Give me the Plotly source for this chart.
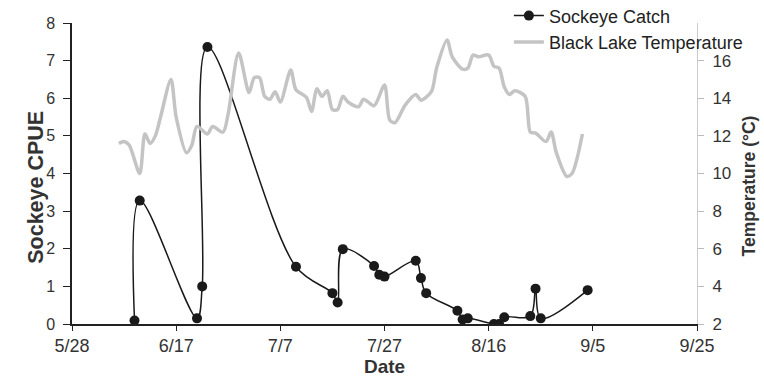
import pandas as pd
import plotly.graph_objects as go

YEAR = "2008"

# Sockeye catch per unit effort
catch_dates = ["6/9", "6/10", "6/21", "6/22", "6/23", "7/10", "7/17", "7/18", "7/19",
               "7/25", "7/26", "7/27", "8/2", "8/3", "8/4", "8/10", "8/11", "8/12",
               "8/17", "8/18", "8/19", "8/24", "8/25", "8/26", "9/4"]
catch_cpue = [0.09, 3.28, 0.15, 1.0, 7.36, 1.52, 0.82, 0.57, 1.99,
              1.54, 1.31, 1.26, 1.68, 1.22, 0.82, 0.35, 0.12, 0.15,
              0.0, 0.0, 0.18, 0.21, 0.94, 0.15, 0.9]

# Black Lake water temperature (deg C)
temp_dates = ["6/6", "6/7", "6/8", "6/10", "6/11", "6/12", "6/13", "6/14", "6/16", "6/17",
              "6/19", "6/20", "6/21", "6/23", "6/24", "6/26", "6/27", "6/29", "7/1", "7/2",
              "7/3", "7/4", "7/5", "7/6", "7/7", "7/9", "7/10", "7/12", "7/13", "7/14",
              "7/15", "7/16", "7/17", "7/18", "7/19", "7/20", "7/22", "7/23", "7/25", "7/27",
              "7/28", "7/29", "7/31", "8/2", "8/3", "8/5", "8/6", "8/8", "8/9", "8/11",
              "8/12", "8/13", "8/14", "8/16", "8/17", "8/18", "8/19", "8/20", "8/21", "8/23",
              "8/24", "8/25", "8/27", "8/28", "8/29", "8/31", "9/1", "9/3"]
temp_c = [11.6, 11.7, 11.5, 10.0, 12.1, 11.6, 12.0, 13.0, 15.0, 13.0,
          11.1, 11.5, 12.5, 12.1, 12.5, 12.2, 13.2, 16.4, 14.3, 15.1,
          15.1, 14.1, 13.95, 14.35, 13.8, 15.5, 14.45, 14.05, 13.3, 14.5,
          14.1, 14.4, 13.4, 13.4, 14.1, 13.8, 13.55, 13.95, 13.6, 14.7,
          12.85, 12.7, 13.65, 14.2, 13.9, 14.35, 15.6, 17.1, 16.2, 15.55,
          15.6, 16.3, 16.2, 16.3, 15.7, 15.6, 14.6, 14.2, 14.4, 14.1,
          12.2, 12.15, 11.7, 12.2, 11.1, 9.85, 10.0, 12.1]

x_start, x_end = "5/28", "9/25"


def to_dt(md):
    return pd.to_datetime([f"{YEAR}/{d}" for d in md], format="%Y/%m/%d")


fig = go.Figure()

fig.add_trace(go.Scatter(
    x=to_dt(temp_dates), y=temp_c, yaxis="y2",
    name="Black Lake Temperature", mode="lines",
    line=dict(color="#c4c4c4", width=3.5, shape="spline", smoothing=0.8),
    legendrank=2,
))

fig.add_trace(go.Scatter(
    x=to_dt(catch_dates), y=catch_cpue,
    name="Sockeye Catch", mode="lines+markers",
    line=dict(color="#1a1a1a", width=1.5, shape="spline", smoothing=1.0),
    marker=dict(color="#1a1a1a", size=10),
    legendrank=1,
))

x0 = to_dt([x_start])[0]
x1 = to_dt([x_end])[0]

FONT = "Liberation Sans, Arial, sans-serif"
TXT = "#333333"

fig.update_layout(
    width=764, height=388,
    margin=dict(l=72, r=67, t=23, b=64, autoexpand=False),
    paper_bgcolor="white", plot_bgcolor="white",
    showlegend=True,
    legend=dict(
        x=0.699, y=1.085, xanchor="left", yanchor="top",
        bgcolor="rgba(0,0,0,0)",
        font=dict(family=FONT, size=18, color="#222222"),
        tracegroupgap=0,
    ),
    xaxis=dict(
        range=[x0, x1],
        tick0=x0, dtick=20 * 86400000,
        tickformat="%-m/%-d",
        ticks="outside", ticklen=5, tickcolor="#222222",
        ticklabelstandoff=0,
        showline=True, linecolor="#222222", linewidth=1.5,
        showgrid=False, zeroline=False,
        tickfont=dict(family=FONT, size=18, color=TXT),
        title=dict(text="<b>Date</b>", standoff=4,
                   font=dict(family=FONT, size=19, color=TXT)),
    ),
    yaxis=dict(
        range=[0, 8], dtick=1,
        ticks="outside", ticklen=7, tickcolor="#222222",
        ticklabelstandoff=5,
        showline=True, linecolor="#222222", linewidth=1.5,
        showgrid=False, zeroline=False,
        tickfont=dict(family=FONT, size=16, color=TXT),
    ),
    yaxis2=dict(
        overlaying="y", side="right",
        range=[2, 18], tickvals=[2, 4, 6, 8, 10, 12, 14, 16],
        ticks="outside", ticklen=6, tickcolor="#bbbbbb",
        ticklabelstandoff=5,
        showline=True, linecolor="#cccccc", linewidth=1,
        showgrid=False, zeroline=False,
        tickfont=dict(family=FONT, size=17, color=TXT),
    ),
    annotations=[
        dict(text="<b>Sockeye CPUE</b>", textangle=-90,
             xref="paper", yref="paper", x=-0.058, y=0.455,
             xanchor="center", yanchor="middle", showarrow=False,
             font=dict(family=FONT, size=21.5, color=TXT)),
        dict(text="<b>Temperature (°C)</b>", textangle=-90,
             xref="paper", yref="paper", x=1.083, y=0.46,
             xanchor="center", yanchor="middle", showarrow=False,
             font=dict(family=FONT, size=17.5, color=TXT)),
    ],
)

fig.write_html("out.html")
